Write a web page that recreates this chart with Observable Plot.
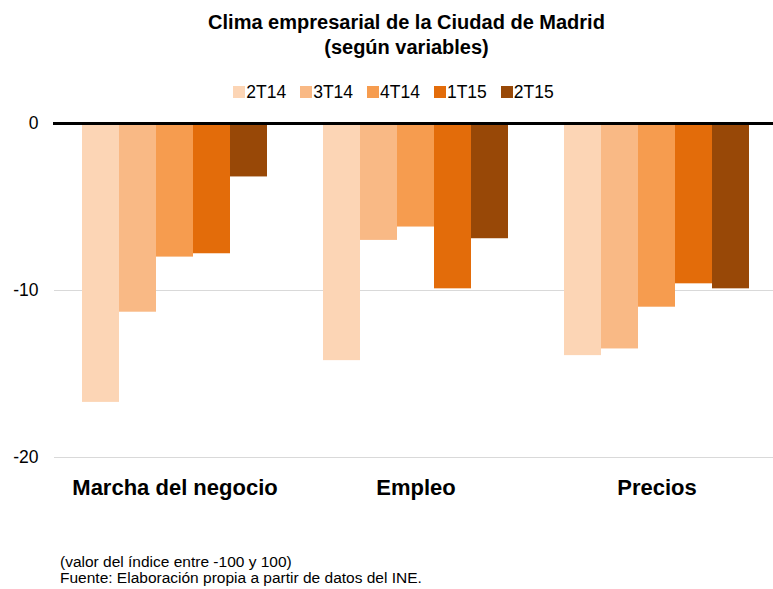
<!DOCTYPE html>
<html>
<head>
<meta charset="utf-8">
<script src="https://cdn.jsdelivr.net/npm/d3@7"></script>
<script src="https://cdn.jsdelivr.net/npm/@observablehq/plot@0.6"></script>
<style>
  body { margin: 0; background: #fff; font-family: "Liberation Sans", Arial, sans-serif; color: #000; width: 773px; overflow: hidden; }
  #title { text-align: center; font-weight: bold; font-size: 20px; line-height: 25px; padding-top: 10px; padding-left: 40px; }
  #legend { display: flex; justify-content: center; gap: 14px; margin-top: 22px; height: 20px; line-height: 20px; font-size: 17.5px; padding-left: 14px; }
  #legend .item { display: flex; align-items: center; }
  #legend .sw { width: 12px; height: 12px; margin-right: 1px; }
  #chart svg { display: block; font-family: "Liberation Sans", Arial, sans-serif; overflow: visible; }
  #chart g[aria-label^="fx-axis"] text { font-size: 22px; font-weight: bold; fill: #000; }
  #chart g[aria-label^="y-axis"] text { font-size: 17.5px; fill: #000; }
  #note { margin-top: 52px; padding-left: 60px; font-size: 15.5px; line-height: 16px; }
</style>
</head>
<body>
<div id="title">Clima empresarial de la Ciudad de Madrid<br>(según variables)</div>
<div id="legend"></div>
<div id="chart"></div>
<div id="note">(valor del índice entre -100 y 100)<br>Fuente: Elaboración propia a partir de datos del INE.</div>
<script>
const categories = ["Marcha del negocio", "Empleo", "Precios"];
const series = ["2T14", "3T14", "4T14", "1T15", "2T15"];
const colors = ["#fcd5b5", "#f9b985", "#f69c4f", "#e36c0a", "#984807"];
const v2T14 = [-16.7, -14.2, -13.9];
const v3T14 = [-11.3, -7.0, -13.5];
const v4T14 = [-8.0, -6.2, -11.0];
const v1T15 = [-7.8, -9.9, -9.6];
const v2T15 = [-3.2, -6.9, -9.9];
const yTicks = [-20, -10, 0];

const valuesBySeries = [v2T14, v3T14, v4T14, v1T15, v2T15];
const data = [];
categories.forEach((c, i) => series.forEach((s, j) => data.push({cat: c, series: s, value: valuesBySeries[j][i]})));

const legend = document.getElementById("legend");
series.forEach((s, j) => {
  const it = document.createElement("div");
  it.className = "item";
  it.innerHTML = `<span class="sw" style="background:${colors[j]}"></span><span>${s}</span>`;
  legend.appendChild(it);
});

const chart = Plot.plot({
  width: 773,
  height: 400,
  marginLeft: 54,
  marginRight: -4,
  marginTop: 21,
  marginBottom: 45,
  fx: {domain: categories, paddingInner: 0.232, paddingOuter: 0.116, label: null, tickSize: 0, tickPadding: 22},
  x: {domain: series, padding: 0, axis: null},
  y: {domain: [-20, 0], ticks: yTicks, tickFormat: d => String(d), label: null, tickSize: 0, tickPadding: 44},
  color: {domain: series, range: colors},
  marks: [
    Plot.ruleY([-20, -10], {stroke: "#d9d9d9", strokeWidth: 1, insetLeft: -28, insetRight: -28}),
    Plot.barY(data, {fx: "cat", x: "series", y: "value", fill: "series"}),
    Plot.ruleY([0], {stroke: "#000", strokeWidth: 3, insetLeft: -29, insetRight: -29})
  ]
});
document.getElementById("chart").appendChild(chart);
</script>
</body>
</html>
